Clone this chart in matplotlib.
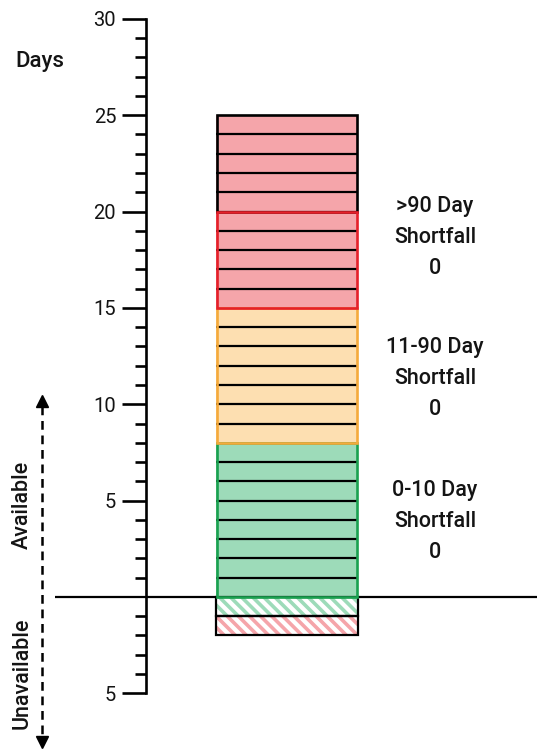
import matplotlib
matplotlib.use("Agg")
import matplotlib.pyplot as plt
import numpy as np

plt.rcParams['font.family'] = ['Roboto', 'DejaVu Sans']
plt.rcParams['hatch.linewidth'] = 2.6

# ---- data ----
segment_names = ['0-10 Day', '11-90 Day', '>90 Day', '>90 Day extra']
segment_days = [8, 7, 5, 5]
segment_fill = ['#9ddbb9', '#fddfb1', '#f5a5aa', '#f5a5aa']
segment_edge = ['#1aa150', '#f5aa3c', '#e5202a', '#000000']
unavail_days = [1, 1]
unavail_hatch = ['#9ddbb9', '#f5a5aa']
labels = ['0-10 Day\nShortfall\n0', '11-90 Day\nShortfall\n0', '>90 Day\nShortfall\n0']
label_y = [3.9, 11.35, 18.65]
major_ticks = [30, 25, 20, 15, 10, 5, -5]
major_labels = ['30', '25', '20', '15', '10', '5', '5']

W, H = 537, 753
fig = plt.figure(figsize=(W / 100, H / 100), dpi=100)
ax = fig.add_axes([0, 0, 1, 1])
ax.set_xlim(0, W)
ax.set_ylim(-8.10, 30.98)
ax.patch.set_alpha(0)

TXT = '#141414'
for s in ['top', 'right', 'bottom']:
    ax.spines[s].set_visible(False)
ax.spines['left'].set_position(('data', 146))
ax.spines['left'].set_bounds(-5, 30)
ax.spines['left'].set_linewidth(1.9)
ax.set_xticks([])
ax.set_yticks(major_ticks)
ax.set_yticklabels(major_labels)
minor = [v for v in range(-5, 31) if v not in major_ticks and v != 0]
ax.set_yticks(minor, minor=True)
ax.tick_params(axis='y', which='major', length=17, width=1.9, pad=4.5,
               labelsize=14.5, labelcolor=TXT)
ax.tick_params(axis='y', which='minor', length=8, width=1.9)

# zero line
ax.hlines(0, 55, W, color='black', lw=1.6, zorder=1)

bx, bw = 287, 142
# available stacked segments
bottom = 0
for d, fc, ec in zip(segment_days, segment_fill, segment_edge):
    ax.bar(bx, d, bottom=bottom, width=bw, color=fc, edgecolor='none', zorder=2)
    for k in range(1, d):
        ax.hlines(bottom + k, bx - bw / 2, bx + bw / 2, color='black', lw=1.6, zorder=3)
    bottom += d
# outlines (black first, then colored on top)
bottom = 0
order = []
for d, ec in zip(segment_days, segment_edge):
    order.append((bottom, d, ec))
    bottom += d
for b, d, ec in sorted(order, key=lambda t: t[2] != '#000000'):
    ax.bar(bx, d, bottom=b, width=bw - 2, color='none', edgecolor=ec, lw=1.9, zorder=4)
ax.hlines(20, bx - bw / 2, bx + bw / 2, color='black', lw=1.6, zorder=3)

# unavailable hatched
top = 0
for d, hc in zip(unavail_days, unavail_hatch):
    ax.bar(bx, -d, bottom=top, width=bw, color='white', edgecolor=hc, hatch='\\\\\\',
           lw=0, zorder=2)
    ax.bar(bx, -d, bottom=top, width=bw, color='none', edgecolor='black', lw=1.6, zorder=3)
    top -= d

# right labels
for t, y in zip(labels, label_y):
    ax.text(435, y, t, ha='center', va='center', fontsize=15.5, linespacing=1.62,
            color=TXT, fontweight='medium')

ax.text(40, 27.8, 'Days', ha='center', va='center', fontsize=16, color=TXT,
        fontweight='medium')

# dashed double arrow
ax.plot([42, 42], [9.9, -7.3], color='black', lw=1.8, ls=(0, (3.5, 2.3)), zorder=2)
ax.plot([42], [10.15], marker='^', color='black', ms=8, zorder=3)
ax.plot([42], [-7.55], marker='v', color='black', ms=8, zorder=3)

ax.text(22, 4.77, 'Available', rotation=90, ha='center', va='center', fontsize=15.5,
        color=TXT, fontweight='medium')
ax.text(22, -3.94, 'Unavailable', rotation=90, ha='center', va='center', fontsize=15.5,
        color=TXT, fontweight='medium')

fig.savefig('out.png', dpi=100)
